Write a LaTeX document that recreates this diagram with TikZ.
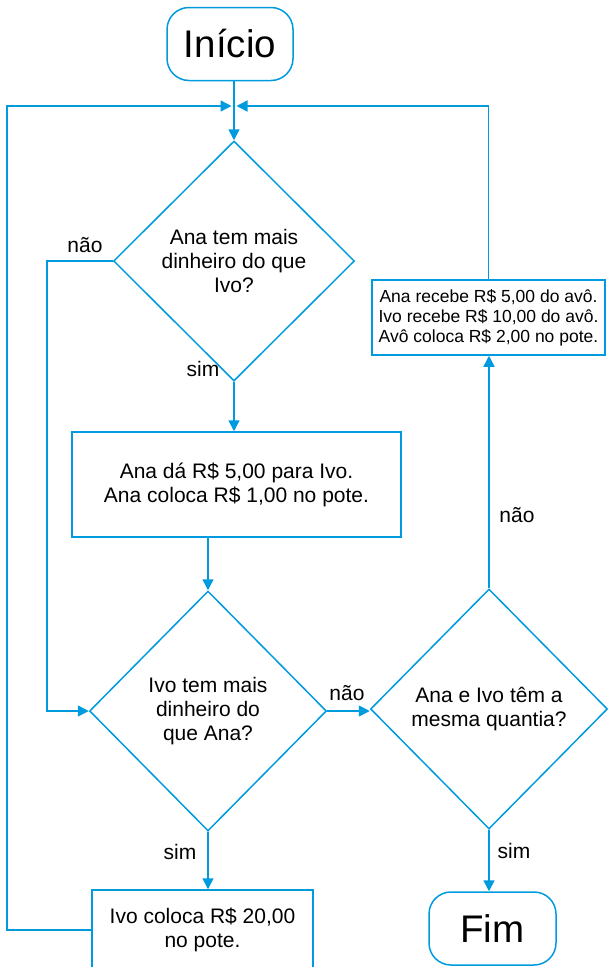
\documentclass[tikz,border=0pt]{standalone}
\usepackage{fontspec}
\setmainfont{Liberation Sans}
\usetikzlibrary{shapes.geometric,arrows.meta}

\definecolor{flowblue}{RGB}{0,155,222}
\newcommand{\flowfont}{\fontsize{21}{24}\selectfont}

\begin{document}
\begin{tikzpicture}[x=1pt, y=-1pt,
    flowline/.style={draw=flowblue, line width=1.5pt},
    arr/.style={flowline, -{Triangle[length=11pt,width=11pt]}},
    term/.style={flowline, rounded corners=22pt, minimum width=126pt, minimum height=73pt, font=\fontsize{38.5}{40}\selectfont},
    proc/.style={flowline, align=center, font=\flowfont},
    dec/.style={flowline, diamond, inner sep=0pt, align=center, font=\flowfont},
    lbl/.style={font=\flowfont}]

    \clip (0,0) rectangle (608,967);

    % Draw the blocks
    \node[term] (inicio) at (230,44) {Início};
    \node[dec, minimum width=241pt, minimum height=240pt] (d1) at (234,261) {Ana tem mais\\dinheiro do que\\Ivo?};
    \node[proc, minimum width=329pt, minimum height=105pt] (box1) at (236.5,484.5) {Ana dá R\$ 5,00 para Ivo.\\Ana coloca R\$ 1,00 no pote.};
    \node[dec, minimum width=237pt, minimum height=240pt] (d2) at (208,711) {Ivo tem mais\\dinheiro do\\que Ana?};
    \node[dec, minimum width=237pt, minimum height=240pt] (d3) at (489,709) {Ana e Ivo têm a\\mesma quantia?};
    \node[proc, minimum width=233pt, minimum height=75pt, font=\fontsize{17.5}{20}\selectfont] (box3) at (488.5,317.5) {Ana recebe R\$ 5,00 do avô.\\Ivo recebe R\$ 10,00 do avô.\\Avô coloca R\$ 2,00 no pote.};
    \node[proc, minimum width=221pt, minimum height=80pt] (box2) at (202.5,930) {Ivo coloca R\$ 20,00\\no pote.};
    \node[term, minimum width=127pt] (fim) at (492.5,928.5) {Fim};

    \coordinate (loopL) at (7,106);
    \coordinate (merge) at (loopL -| d1.north);
    \coordinate (noL) at (47,0);

    % Draw the connectors
    \draw[flowline] (inicio.south -| merge) -- (merge);
    \draw[arr] (merge) -- (d1.north);
    \draw[arr, shorten >=2.5pt] (box2.west) -| (loopL) -- (merge);
    \draw[arr, shorten >=2.5pt] (box3.north) |- (merge);
    \draw[arr] (d1.south) -- (d1.south |- box1.north);
    \draw[arr] (box1.south -| d2.north) -- (d2.north);
    \draw[arr] (d1.west) -- (d1.west -| noL) |- (d2.west);
    \draw[arr] (d2.east) -- (d2.east -| d3.west);
    \draw[arr] (d2.south) -- (box2.north -| d2.south);
    \draw[arr] (d3.south) -- (fim.north -| d3.south);
    \draw[arr] (d3.north) -- (box3.south -| d3.north);

    % Labels
    \node[lbl] (naoA) at (85,245) {não};
    \node[lbl] (simA) at (203,369) {sim};
    \node[lbl] (naoB) at (347,693) {não};
    \node[lbl] (simB) at (180,852) {sim};
    \node[lbl] (simC) at (514,851) {sim};
    \node[lbl] (naoC) at (517,515) {não};
\end{tikzpicture}
\end{document}
